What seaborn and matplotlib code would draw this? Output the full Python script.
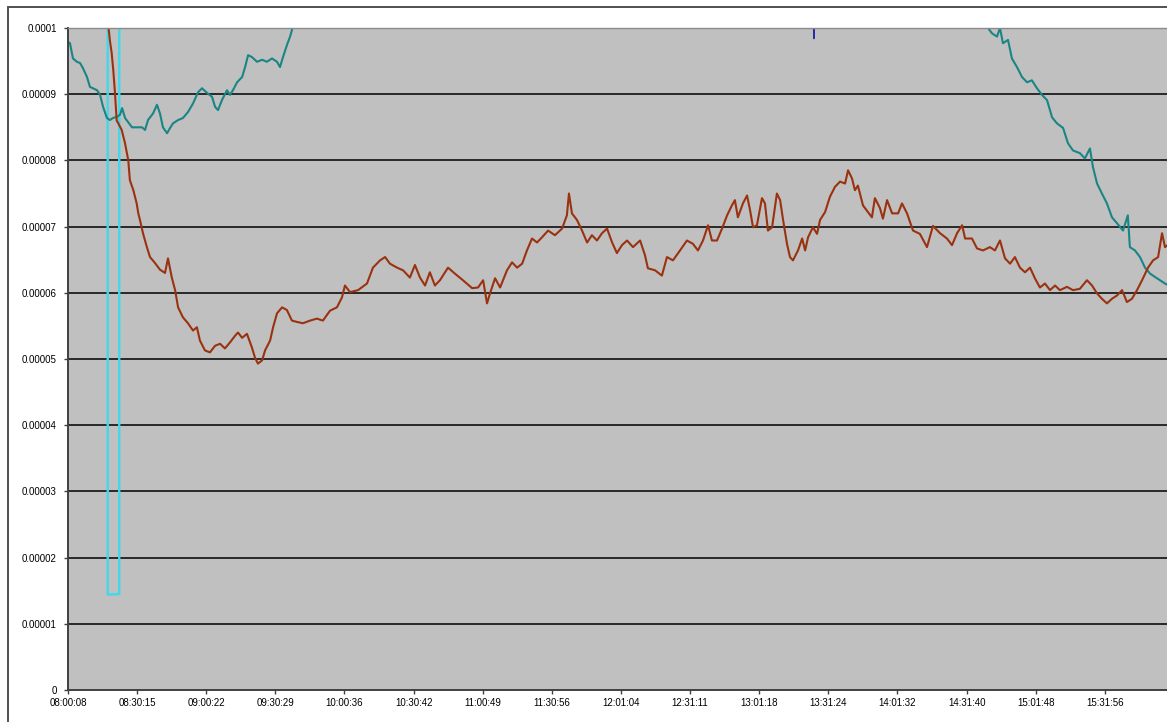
import numpy as np
import pandas as pd
import matplotlib
matplotlib.use("Agg")
import matplotlib.pyplot as plt
import seaborn as sns
from matplotlib.lines import Line2D

# Time in minutes after 08:00:00, values in units of 1e-6.
teal_early_t = [0.13, 1.0, 2.3, 4.0, 5.4, 6.7, 8.4, 9.7, 11.0, 12.8, 14.1, 15.4, 17.1, 18.4,
                19.7, 21.5, 22.8, 23.7, 25.0, 26.3, 28.0, 30.2, 32.4, 33.7, 35.0, 37.2, 38.9,
                40.2, 41.5, 43.3, 44.6, 45.9, 48.1, 50.2, 52.4, 54.6, 56.8, 58.5, 60.7, 62.9,
                64.2, 65.5, 67.2, 69.4, 70.7, 72.0, 73.8, 76.0, 77.3, 78.6, 80.3, 82.5, 84.7,
                86.8, 89.0, 91.2, 92.5, 93.8, 95.5, 96.9, 98.2]
teal_early_v = [97.9, 97.7, 95.4, 94.9, 94.7, 93.9, 92.6, 91.1, 90.9, 90.6, 89.9, 88.1, 86.4, 86.1,
                86.4, 86.6, 86.9, 87.9, 86.4, 85.8, 85.0, 85.0, 85.0, 84.6, 86.1, 87.1, 88.4,
                87.1, 85.0, 84.1, 84.9, 85.6, 86.1, 86.4, 87.3, 88.6, 90.3, 90.9, 90.2, 89.6,
                88.1, 87.6, 89.1, 90.6, 89.9, 90.6, 91.8, 92.6, 94.1, 95.9, 95.6, 94.9, 95.2,
                94.9, 95.4, 94.9, 94.1, 95.6, 97.4, 98.7, 100.3]

teal_late_t = [399.7, 401.0, 402.7, 404.9, 406.2, 407.5, 409.7, 411.4, 413.6, 415.8, 418.0,
               420.1, 422.3, 424.5, 426.7, 428.9, 431.0, 433.7, 435.8, 438.0, 441.0, 443.2,
               445.4, 446.7, 448.5, 450.6, 452.8, 455.0, 457.2, 459.8, 461.9, 462.8, 465.0,
               467.2, 469.4, 471.6, 473.7, 475.9, 478.1, 480.3]
teal_late_v = [101.0, 100.0, 99.2, 98.7, 100.0, 97.7, 98.2, 95.4, 94.1, 92.6, 91.8,
               92.1, 90.9, 89.9, 89.1, 86.5, 85.6, 84.9, 82.6, 81.5, 81.1, 80.3,
               81.8, 79.0, 76.5, 75.0, 73.5, 71.4, 70.5, 69.4, 71.7, 66.9, 66.4,
               65.4, 63.8, 62.9, 62.4, 61.9, 61.4, 61.0]

rust_t = [17.34, 18.43, 19.17, 19.87, 20.6, 21.35, 22.05, 23.53, 24.97, 26.4, 27.1, 28.6, 30.06,
          30.76, 31.5, 32.8, 34.42, 35.86, 38.04, 40.2, 42.4, 43.7, 45.3, 46.8, 48.1, 50.2,
          52.4, 54.6, 56.3, 57.6, 59.8, 62.0, 64.2, 66.4, 68.5, 70.7, 72.9, 74.2, 76.0, 78.1,
          80.3, 81.6, 82.9, 84.7, 86.0, 88.2, 89.5, 91.2, 93.4, 95.5, 97.7, 99.9, 102.5,
          105.6, 108.6, 111.2, 114.3, 117.3, 119.5, 120.8, 123.0, 126.5, 130.4, 133.0, 136.1,
          138.3, 140.4, 143.5, 146.1, 149.1, 151.3, 153.5, 155.7, 157.8, 160.0, 162.2, 165.7,
          168.7, 172.2, 176.2, 178.8, 181.0, 182.7, 184.0, 186.2, 188.4, 191.4, 193.6, 195.8,
          198.0, 200.1, 202.3, 204.5, 206.7, 209.3, 212.3, 215.4, 217.5, 218.4, 219.7, 221.9,
          224.1, 226.3, 228.4, 230.6, 232.8, 235.0, 237.2, 239.3, 241.5, 243.7, 246.3, 249.4,
          251.5, 252.8, 255.9, 258.9, 261.1, 263.7, 266.8, 269.8, 272.4, 274.6, 276.8, 279.0,
          280.7, 282.9, 285.1, 287.3, 289.4, 290.7, 292.0, 294.2, 296.0, 297.3, 298.6, 300.3,
          302.5, 303.8, 305.1, 306.9, 309.0, 310.4, 311.7, 313.4, 314.7, 316.0, 318.2, 320.0,
          321.3, 322.6, 324.7, 326.5, 327.8, 330.0, 332.1, 334.3, 336.5, 338.7, 340.0, 341.7,
          343.0, 344.3, 346.5, 348.7, 350.4, 351.7, 353.9, 355.2, 357.0, 359.2, 361.8, 363.5,
          365.7, 368.3, 371.3, 374.4, 377.0, 380.1, 383.1, 385.3, 387.5, 389.7, 391.0, 394.0,
          396.2, 398.8, 401.8, 404.0, 406.2, 408.4, 410.6, 412.7, 414.9, 417.1, 419.3, 421.4,
          423.6, 425.8, 428.0, 430.2, 432.3, 435.4, 438.0, 441.0, 444.1, 446.3, 448.5, 450.6,
          452.8, 455.0, 457.2, 459.4, 461.5, 463.7, 465.9, 468.1, 470.7, 472.9, 475.1, 476.8,
          478.1, 480.3]
rust_v = [101.5, 98.0, 96.2, 93.6, 90.2, 86.0, 85.6, 84.6, 82.6, 80.0, 77.0, 75.5, 73.5,
          72.0, 71.0, 69.0, 67.0, 65.4, 64.5, 63.5, 63.0, 65.2, 62.4, 60.4, 57.8, 56.3,
          55.4, 54.3, 54.8, 52.8, 51.3, 51.0, 52.0, 52.3, 51.6, 52.5, 53.5, 54.0, 53.2, 53.8,
          51.7, 50.2, 49.3, 49.8, 51.3, 52.8, 54.8, 56.9, 57.8, 57.4, 55.8, 55.6, 55.4,
          55.8, 56.1, 55.8, 57.3, 57.8, 59.3, 61.1, 60.1, 60.4, 61.4, 63.8, 64.9,
          65.4, 64.4, 63.8, 63.4, 62.3, 64.2, 62.3, 61.1, 63.1, 61.1, 61.9, 63.8,
          62.9, 61.9, 60.7, 60.8, 61.9, 58.4, 59.9, 62.2, 60.8, 63.4, 64.6, 63.8,
          64.4, 66.4, 68.2, 67.6, 68.4, 69.4, 68.7, 69.7, 71.7, 75.0, 72.0, 71.0,
          69.4, 67.6, 68.7, 67.9, 69.0, 69.7, 67.6, 66.0, 67.2, 67.9, 66.9, 67.9,
          65.7, 63.7, 63.4, 62.6, 65.4, 64.9, 66.4, 67.9, 67.4, 66.4, 67.9, 70.2,
          67.9, 67.9, 69.7, 71.7, 73.2, 74.0, 71.4, 73.5, 74.7, 72.5, 69.9, 70.2,
          74.3, 73.5, 69.4, 69.9, 75.0, 74.0, 71.0, 67.4, 65.4, 64.9, 66.4, 68.2,
          66.4, 68.4, 69.9, 68.9, 71.0, 72.2, 74.5, 76.0, 76.8, 76.5, 78.5, 77.3,
          75.5, 76.2, 73.2, 72.2, 71.4, 74.3, 72.8, 71.2, 74.0, 72.0, 72.0, 73.5,
          72.0, 69.4, 68.9, 66.9, 70.1, 69.0, 68.2, 67.2, 69.0, 70.2, 68.2, 68.2,
          66.7, 66.4, 66.9, 66.4, 67.9, 65.2, 64.4, 65.4, 63.8, 63.1, 63.8, 62.2,
          60.8, 61.4, 60.4, 61.1, 60.4, 60.9, 60.4, 60.6, 61.9, 61.1, 59.9, 59.1,
          58.4, 59.1, 59.6, 60.4, 58.6, 59.1, 60.4, 61.9, 63.8, 64.9, 65.4, 69.0,
          66.9, 67.5]

cyan_t = [17.43, 17.45, 22.46, 22.48]
cyan_v = [104.0, 14.4, 14.5, 104.0]

navy_t = [324.9, 325.1, 325.3]
navy_v = [101.0, 98.4, 101.0]

x_tick_labels = ["08:00:08", "08:30:15", "09:00:22", "09:30:29", "10:00:36", "10:30:42",
                 "11:00:49", "11:30:56", "12:01:04", "12:31:11", "13:01:18", "13:31:24",
                 "14:01:32", "14:31:40", "15:01:48", "15:31:56"]
y_tick_labels = ["0", "0.00001", "0.00002", "0.00003", "0.00004", "0.00005",
                 "0.00006", "0.00007", "0.00008", "0.00009", "0.0001"]


def clock_to_minutes(s):
    h, m, sec = (int(p) for p in s.split(":"))
    return (h - 8) * 60 + m + sec / 60.0


def segment(t, v, name):
    return pd.DataFrame({"minute": t, "value": np.asarray(v) * 1e-6, "series": name})


segments = [
    (segment(cyan_t, cyan_v, "cyan"), "#3fd9ea", 1.7),
    (segment(teal_early_t, teal_early_v, "teal"), "#1a8585", 1.5),
    (segment(teal_late_t, teal_late_v, "teal"), "#1a8585", 1.5),
    (segment(rust_t, rust_v, "rust"), "#9a3210", 1.5),
    (segment(navy_t, navy_v, "navy"), "#2a2aa8", 1.0),
]

sns.set_style("white")
plt.rcParams["font.family"] = ["Liberation Sans", "DejaVu Sans"]

W, H = 1167, 722
fig = plt.figure(figsize=(W / 100, H / 100), dpi=100)
fig.patch.set_facecolor("white")

ax = fig.add_axes([68 / W, (H - 690) / H, (W - 68) / W, (690 - 28) / H])
ax.set_facecolor("#c0c0c0")

for df, color, lw in segments:
    sns.lineplot(data=df, x="minute", y="value", ax=ax, color=color, linewidth=lw,
                 estimator=None, sort=False, legend=False)

y_ticks = [float(s) for s in y_tick_labels]
ax.set_ylim(0, 0.0001)
x_ticks = [clock_to_minutes(s) for s in x_tick_labels]
x_step = (x_ticks[-1] - x_ticks[0]) / (len(x_ticks) - 1)
ax.set_xlim(x_ticks[0], x_ticks[0] + x_step * (W - 68) / 69.13)

ax.set_yticks(y_ticks)
ax.set_yticklabels(y_tick_labels)
ax.set_xticks(x_ticks)
ax.set_xticklabels(x_tick_labels)
ax.set_xlabel("")
ax.set_ylabel("")

for yv in y_ticks[1:-1]:
    ax.axhline(yv, color="black", linewidth=1.1, zorder=0.5)

ax.tick_params(axis="both", which="major", direction="out", length=3,
               width=1.0, color="#404040", labelsize=7, labelcolor="black")
ax.tick_params(axis="y", pad=5)
ax.tick_params(axis="x", pad=3)
ax.xaxis.set_ticks_position("bottom")
ax.yaxis.set_ticks_position("left")

for side in ("left", "bottom"):
    ax.spines[side].set_color("#404040")
    ax.spines[side].set_linewidth(1.4)
ax.spines["top"].set_color("#8a8a8a")
ax.spines["top"].set_linewidth(1.0)
ax.spines["right"].set_visible(False)

# Chart area border
fig.add_artist(Line2D([8 / W, 8 / W], [0, 1 - 7 / H], transform=fig.transFigure,
                      color="#505050", linewidth=1.4))
fig.add_artist(Line2D([8 / W, 1], [1 - 7 / H, 1 - 7 / H], transform=fig.transFigure,
                      color="#505050", linewidth=1.4))

fig.savefig("out.png", dpi=100, facecolor="white")
